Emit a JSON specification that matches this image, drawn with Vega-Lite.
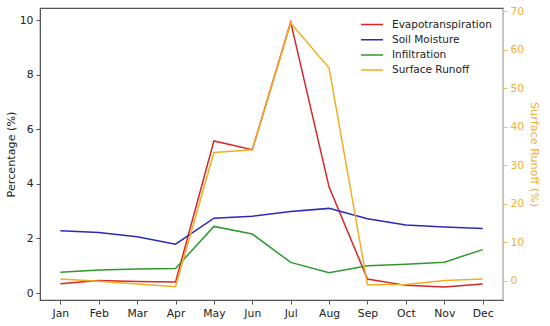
{
  "$schema": "https://vega.github.io/schema/vega-lite/v6.json",
  "width": 463,
  "height": 292,
  "autosize": {"type": "none"},
  "padding": {"left": 40, "top": 8, "right": 47, "bottom": 26},
  "background": "white",
  "config": {
    "view": {"stroke": "#555555", "strokeWidth": 1.2},
    "font": "DejaVu Sans",
    "axis": {"labelFont": "DejaVu Sans", "titleFont": "DejaVu Sans", "labelFontSize": 10.8, "titleFontSize": 11.2, "titleFontWeight": "normal", "labelColor": "#222222", "titleColor": "#222222", "tickColor": "#555555", "domainColor": "#555555", "grid": false, "tickSize": 4}
  },
  "data": {
    "values": [
      {"month": "Jan", "series": "Evapotranspiration", "value": 0.34},
      {"month": "Feb", "series": "Evapotranspiration", "value": 0.46},
      {"month": "Mar", "series": "Evapotranspiration", "value": 0.42},
      {"month": "Apr", "series": "Evapotranspiration", "value": 0.40},
      {"month": "May", "series": "Evapotranspiration", "value": 5.57},
      {"month": "Jun", "series": "Evapotranspiration", "value": 5.25},
      {"month": "Jul", "series": "Evapotranspiration", "value": 9.92},
      {"month": "Aug", "series": "Evapotranspiration", "value": 3.88},
      {"month": "Sep", "series": "Evapotranspiration", "value": 0.51},
      {"month": "Oct", "series": "Evapotranspiration", "value": 0.28},
      {"month": "Nov", "series": "Evapotranspiration", "value": 0.22},
      {"month": "Dec", "series": "Evapotranspiration", "value": 0.33},
      {"month": "Jan", "series": "Soil Moisture", "value": 2.28},
      {"month": "Feb", "series": "Soil Moisture", "value": 2.22},
      {"month": "Mar", "series": "Soil Moisture", "value": 2.06},
      {"month": "Apr", "series": "Soil Moisture", "value": 1.79},
      {"month": "May", "series": "Soil Moisture", "value": 2.74},
      {"month": "Jun", "series": "Soil Moisture", "value": 2.81},
      {"month": "Jul", "series": "Soil Moisture", "value": 2.99},
      {"month": "Aug", "series": "Soil Moisture", "value": 3.10},
      {"month": "Sep", "series": "Soil Moisture", "value": 2.72},
      {"month": "Oct", "series": "Soil Moisture", "value": 2.49},
      {"month": "Nov", "series": "Soil Moisture", "value": 2.42},
      {"month": "Dec", "series": "Soil Moisture", "value": 2.36},
      {"month": "Jan", "series": "Infiltration", "value": 0.76},
      {"month": "Feb", "series": "Infiltration", "value": 0.84},
      {"month": "Mar", "series": "Infiltration", "value": 0.88},
      {"month": "Apr", "series": "Infiltration", "value": 0.90},
      {"month": "May", "series": "Infiltration", "value": 2.44},
      {"month": "Jun", "series": "Infiltration", "value": 2.16},
      {"month": "Jul", "series": "Infiltration", "value": 1.12},
      {"month": "Aug", "series": "Infiltration", "value": 0.74},
      {"month": "Sep", "series": "Infiltration", "value": 1.00},
      {"month": "Oct", "series": "Infiltration", "value": 1.05},
      {"month": "Nov", "series": "Infiltration", "value": 1.13},
      {"month": "Dec", "series": "Infiltration", "value": 1.59},
      {"month": "Jan", "series": "Surface Runoff", "value": 0.5},
      {"month": "Feb", "series": "Surface Runoff", "value": -0.1},
      {"month": "Mar", "series": "Surface Runoff", "value": -0.8},
      {"month": "Apr", "series": "Surface Runoff", "value": -1.5},
      {"month": "May", "series": "Surface Runoff", "value": 33.3},
      {"month": "Jun", "series": "Surface Runoff", "value": 34.0},
      {"month": "Jul", "series": "Surface Runoff", "value": 66.9},
      {"month": "Aug", "series": "Surface Runoff", "value": 55.2},
      {"month": "Sep", "series": "Surface Runoff", "value": -0.95},
      {"month": "Oct", "series": "Surface Runoff", "value": -0.9},
      {"month": "Nov", "series": "Surface Runoff", "value": 0.1},
      {"month": "Dec", "series": "Surface Runoff", "value": 0.5}
    ]
  },
  "encoding": {
    "x": {
      "field": "month", "type": "ordinal",
      "sort": ["Jan","Feb","Mar","Apr","May","Jun","Jul","Aug","Sep","Oct","Nov","Dec"],
      "scale": {"type": "point", "padding": 0.53},
      "axis": {"title": null, "labelAngle": 0, "labelPadding": 3}
    },
    "color": {
      "field": "series", "type": "nominal",
      "scale": {
        "domain": ["Evapotranspiration", "Soil Moisture", "Infiltration", "Surface Runoff"],
        "range": ["#d62728", "#2a2ab8", "#2e9a2e", "#f2ae22"]
      },
      "legend": {
        "title": null, "orient": "none", "legendX": 320, "legendY": 10.5,
        "symbolType": "stroke", "symbolSize": 484, "symbolStrokeWidth": 1.5,
        "labelFontSize": 10.5, "labelFont": "DejaVu Sans", "labelColor": "#222222",
        "clipHeight": 12, "rowPadding": 3.2, "labelOffset": 8
      }
    }
  },
  "layer": [
    {
      "transform": [{"filter": "datum.series != 'Surface Runoff'"}],
      "mark": {"type": "line", "strokeWidth": 1.5},
      "encoding": {
        "y": {
          "field": "value", "type": "quantitative",
          "scale": {"domain": [-0.256, 10.44], "nice": false, "zero": false},
          "axis": {"title": "Percentage (%)", "values": [0, 2, 4, 6, 8, 10], "titlePadding": 3, "labelPadding": 3}
        }
      }
    },
    {
      "transform": [{"filter": "datum.series == 'Surface Runoff'"}],
      "mark": {"type": "line", "strokeWidth": 1.5},
      "encoding": {
        "y": {
          "field": "value", "type": "quantitative",
          "scale": {"domain": [-4.93, 70.78], "nice": false, "zero": false},
          "axis": {
            "orient": "right", "title": "Surface Runoff (%)", "values": [0, 10, 20, 30, 40, 50, 60, 70],
            "labelColor": "#f0b030", "titleColor": "#f0b030", "tickColor": "#f0c050", "domainColor": "#f0c050",
            "titlePadding": 5, "labelPadding": 3
          }
        }
      }
    }
  ],
  "resolve": {"scale": {"y": "independent"}}
}
